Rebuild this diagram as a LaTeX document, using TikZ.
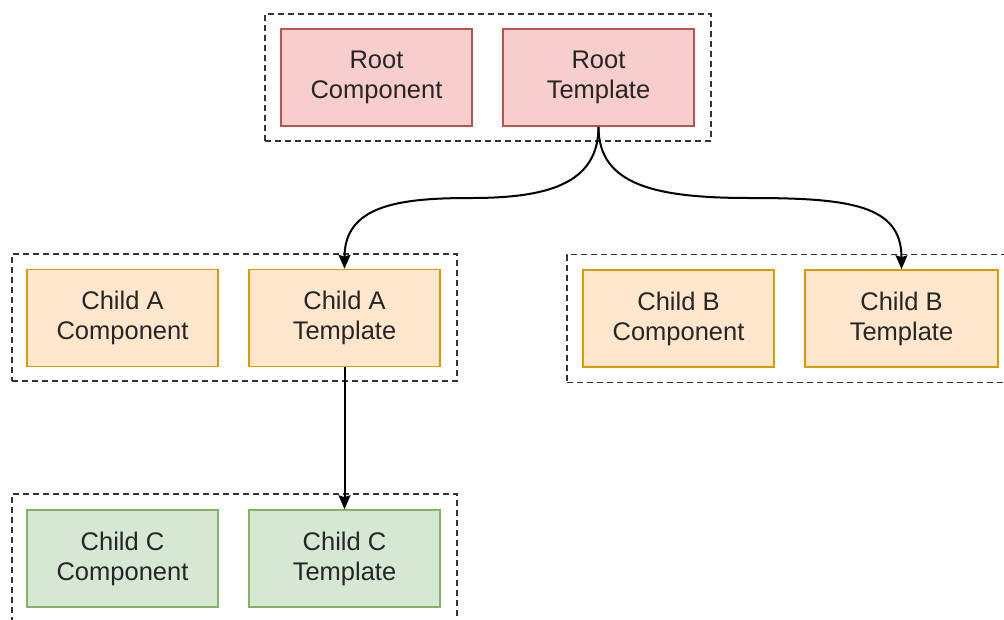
\documentclass[tikz,border=0pt]{standalone}
\usepackage{fontspec}
\setmainfont{Liberation Sans}
\usetikzlibrary{arrows.meta}
\definecolor{redfill}{HTML}{F8CECC}
\definecolor{redline}{HTML}{B85450}
\definecolor{orafill}{HTML}{FFE6CC}
\definecolor{oraline}{HTML}{D79B00}
\definecolor{grnfill}{HTML}{D5E8D4}
\definecolor{grnline}{HTML}{82B366}
\definecolor{txtcol}{HTML}{262626}
\definecolor{grpline}{HTML}{333333}
\tikzset{
  box/.style={rectangle, inner sep=0pt, minimum width=191pt, minimum height=97pt, line width=1.6pt,
    align=center, text=txtcol, font=\fontsize{25.5}{30}\selectfont},
  redbox/.style={box, fill=redfill, draw=redline},
  orabox/.style={box, fill=orafill, draw=oraline},
  grnbox/.style={box, fill=grnfill, draw=grnline},
  group/.style={rectangle, inner sep=0pt, draw=grpline, line width=1.8pt, dash pattern=on 6pt off 4pt},
  conn/.style={line width=2pt, draw=black, -{Stealth[length=14pt,width=12pt,inset=2pt]}}
}
\begin{document}
\begin{tikzpicture}[x=1pt,y=-1pt]
\useasboundingbox (0,0) rectangle (1004,619);
\clip (0,0) rectangle (1004,619);
\fill[white] (0,0) rectangle (1004,619);
% groups
\node[group, minimum width=446pt, minimum height=127pt] (groot) at (488,77.5) {};
\node[group, minimum width=445pt, minimum height=127pt] (ga) at (234.5,317.5) {};
\node[group, minimum width=446pt, minimum height=128pt] (gb) at (790,318.5) {};
\node[group, minimum width=445pt, minimum height=127pt] (gc) at (234.5,557.5) {};
% boxes
\node[redbox] (rc) at (376.5,77.5) {Root\\Component};
\node[redbox] (rt) at (598.5,77.5) {Root\\Template};
\node[orabox] (ac) at (122.5,318) {Child A\\Component};
\node[orabox] (at) at (344.5,318) {Child A\\Template};
\node[orabox] (bc) at (678.5,318.5) {Child B\\Component};
\node[orabox, minimum width=193pt] (bt) at (901.5,318.5) {Child B\\Template};
\node[grnbox] (cc) at (122.5,558.5) {Child C\\Component};
\node[grnbox] (ct) at (344.5,558.5) {Child C\\Template};
% connectors
\coordinate (ma) at (471,198);
\coordinate (mb) at (750,198);
\draw[conn] (rt.south) .. controls (598.5,185) and (545,198) .. (ma)
  .. controls (400,198) and (344.5,205) .. (at.north);
\draw[conn] (rt.south) .. controls (598.5,185) and (655,198) .. (mb)
  .. controls (850,198) and (901.5,205) .. (bt.north);
\draw[conn] (at.south) -- (ct.north);
\end{tikzpicture}
\end{document}
